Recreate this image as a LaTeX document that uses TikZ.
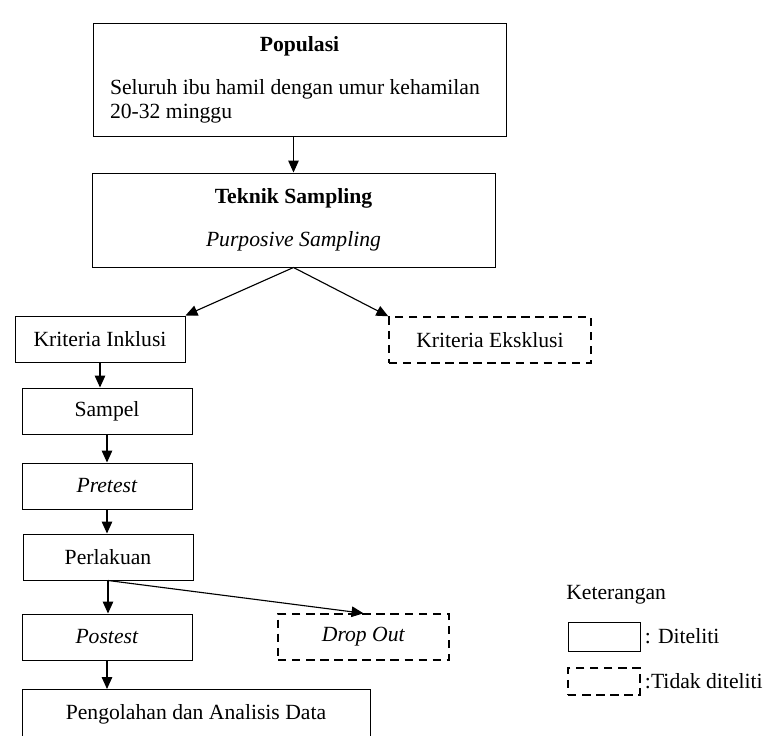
\documentclass[tikz,border=0pt]{standalone}
\usepackage{fontspec}
\setmainfont{Liberation Serif}
\usetikzlibrary{arrows.meta,calc}

\begin{document}
\begin{tikzpicture}[>={Triangle[length=8.5pt,width=7.5pt]},
    font=\fontsize{15.4}{17}\selectfont,
    solidbox/.style={draw, line width=0.7pt, minimum height=1.15cm, inner sep=0pt},
    dashbox/.style={draw, line width=1pt, dash pattern=on 6pt off 4pt, minimum height=1.15cm, inner sep=0pt},
    plain/.style={inner sep=0pt},
    link/.style={->, line width=0.8pt}]

    %% Background
    \useasboundingbox (0,0) rectangle (19.225,-18.4);

    % Populasi
    \node[solidbox, minimum height=2.825cm, text width=9.475cm, inner xsep=0.425cm, align=flush left]
    (populasi) at (7.4875,-1.9875)
    {\makebox[\linewidth]{\textbf{Populasi}}\\[0.475cm]
     Seluruh ibu hamil dengan umur kehamilan\\
     20-32 minggu};

    % Teknik sampling
    \node[solidbox, minimum width=10.075cm, minimum height=2.35cm, align=center]
    (teknik) at (7.3375,-5.5)
    {\textbf{Teknik Sampling}\\[0.475cm]\textit{Purposive Sampling}};

    % Kriteria
    \node[solidbox, minimum width=4.25cm] (inklusi) at (2.5,-8.475) {Kriteria Inklusi};
    \node[dashbox, minimum width=5.05cm] (eksklusi) at (12.25,-8.5) {Kriteria Eksklusi};

    % Alur penelitian
    \node[solidbox, minimum width=4.25cm] (sampel) at (2.675,-10.275) {Sampel};
    \node[solidbox, minimum width=4.25cm] (pretest) at (2.675,-12.15) {\textit{Pretest}};
    \node[solidbox, minimum width=4.25cm] (perlakuan) at (2.7,-13.925) {Perlakuan};
    \node[solidbox, minimum width=4.25cm] (postest) at (2.675,-15.925) {\textit{Postest}};
    \node[dashbox, minimum width=4.275cm] (dropout) at (9.0875,-15.925) {\textit{Drop Out}};
    \node[solidbox, anchor=north, minimum width=8.7cm, minimum height=0pt,
          text height=0.75cm, text depth=0.85cm]
    (olah) at (4.9,-17.225) {Pengolahan dan Analisis Data};

    % Panah
    \draw[link] (teknik.north |- populasi.south) -- (teknik.north);
    \draw[link] (teknik.south) -- (inklusi.north east);
    \draw[link] (teknik.south) -- (eksklusi.north west);
    \draw[link] (inklusi.south) -- (inklusi.south |- sampel.north);
    \draw[link] (sampel.south) -- (sampel.south |- pretest.north);
    \draw[link] (pretest.south) -- (pretest.south |- perlakuan.north);
    \draw[link] (perlakuan.south) -- (perlakuan.south |- postest.north);
    \draw[link] (perlakuan.south) -- (dropout.north);
    \draw[link] (postest.south) -- (postest.south |- olah.north);

    % Keterangan
    \node[plain, anchor=west] (ket) at (14.15,-14.875) {Keterangan};
    \node[solidbox, minimum width=1.8cm, minimum height=0.725cm] (legA) at (15.1,-15.9125) {};
    \node[plain, anchor=west] (legAtext) at ($(legA.east)+(0.1,0)$) {: Diteliti};
    \node[dashbox, minimum width=1.8cm, minimum height=0.675cm] (legB) at (15.1,-17.0375) {};
    \node[plain, anchor=west] (legBtext) at ($(legB.east)+(0.1,0)$) {:Tidak diteliti};

\end{tikzpicture}
\end{document}
